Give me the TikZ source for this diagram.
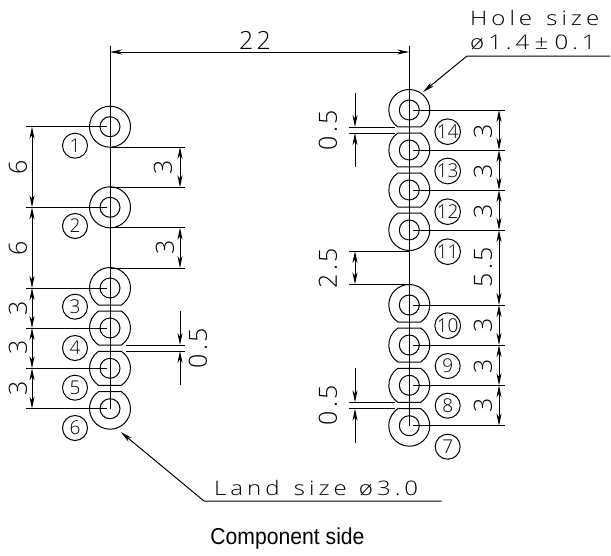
\documentclass[tikz,border=0pt]{standalone}
\usepackage{fontspec}
\usetikzlibrary{arrows.meta,calc}
\setmainfont{Open Sans Light}
\newfontfamily\capfont[FakeStretch=.92]{Liberation Sans}
\newfontfamily\notefont[FakeStretch=1.2,LetterSpace=20]{Open Sans Light}
\tikzset{
    land/.style={line width=1pt},
    hole/.style={line width=1pt},
    thinline/.style={line width=1pt},
    dimline/.style={line width=1pt, {Stealth[length=12pt,width=5pt,inset=3.5pt]}-{Stealth[length=12pt,width=5pt,inset=3.5pt]}},
    leader/.style={line width=1pt, -{Stealth[length=12pt,width=5pt,inset=3.5pt]}},
    pinnum/.style={draw, circle, line width=1pt, minimum size=25pt, inner sep=0pt, font=\fontsize{19}{19}\selectfont},
    dimtext/.style={inner sep=0pt, rotate=90, font=\fontsize{25}{25}\selectfont\addfontfeature{LetterSpace=12}},
    notetext/.style={inner sep=0pt, anchor=west, font=\notefont\fontsize{20}{20}\selectfont},
}
\begin{document}
\begin{tikzpicture}[x=1pt, y=-1pt]
    \useasboundingbox (0,0) rectangle (611,555);
    % lands, holes and pin numbers
    \foreach \i/\lx/\ly/\ca/\cb/\nx/\ny in {
        1/110/126.7/90/90/75/145.7, 2/110/207.3/90/90/75/226, 3/110/288/90/56/75/306.7,
        4/110/328/56/56/75/348, 5/110/368.3/56/56/75/387.7, 6/110/408.7/56/90/75/428,
        14/409.3/110/90/56/447.7/131.7, 13/409.3/150/56/56/447.7/171, 12/409.3/190/56/56/447.7/211.7,
        11/409.3/230/56/90/447.7/251.7, 10/409.3/305/90/56/447.7/325.7, 9/409.3/345/56/56/447.7/366,
        8/409.3/385.3/56/56/447.7/405.7, 7/409.3/425.7/56/90/447.7/446.7} {
        \coordinate (pin\i) at (\lx,\ly);
        \draw[land] (pin\i) ++(\cb:20.5) arc[start angle=\cb, end angle=-\ca, radius=20.5]
            -- ($(pin\i)+(180+\ca:20.5)$) arc[start angle=180+\ca, end angle=180-\cb, radius=20.5] -- cycle;
        \draw[hole] (pin\i) circle (10);
        \node[pinnum] (num\i) at (\nx,\ny) {\i};
    }
    % centre lines and the 22
    \coordinate (topL) at (110,46);
    \coordinate (topR) at (409.3,46);
    \draw[thinline] (topL) -- (pin6);
    \draw[thinline] (topR) -- (pin7);
    \coordinate (dimTop) at (0,52);
    \draw[dimline] (topL |- dimTop) -- (topR |- dimTop);
    \node[inner sep=0pt, font=\fontsize{25}{25}\selectfont\addfontfeature{LetterSpace=12}] (dim22) at (255,40) {22};
    % left column, pitch on the outside
    \coordinate (dimA) at (32,0);
    \foreach \i in {1,...,6} \draw[thinline] (26,0 |- pin\i) -- (107,0 |- pin\i);
    \foreach \i/\j/\ly/\txt in {1/2/167/6, 2/3/248/6, 3/4/308/3, 4/5/347/3, 5/6/388/3} {
        \draw[dimline] (dimA |- pin\i) -- (dimA |- pin\j);
        \node[dimtext] (pitchL\i) at (18,\ly) {\txt};
    }
    % left column, gaps between the lands
    \coordinate (dimB) at (180,0);
    \foreach \ya/\yb/\ly/\xt in {147/187.3/167/163, 227.7/268/247/165} {
        \coordinate (gapA) at (110,\ya);
        \coordinate (gapB) at (110,\yb);
        \draw[thinline] (gapA) -- (185,\ya);
        \draw[thinline] (gapB) -- (185,\yb);
        \draw[dimline] (dimB |- gapA) -- (dimB |- gapB);
        \node[dimtext] at (\xt,\ly) {3};
    }
    % 0.5 on the left
    \draw[thinline] (126,345) -- (185,345);
    \draw[thinline] (126,351) -- (185,351);
    \draw[leader] (180,311) -- (180,345);
    \draw[leader] (180,385) -- (180,351);
    \node[dimtext] (gapL) at (198,348) {0.5};
    % right column, pitch on the outside
    \coordinate (dimC) at (499,0);
    \foreach \i in {14,13,12,11,10,9,8,7} \draw[thinline] (413,0 |- pin\i) -- (505,0 |- pin\i);
    \foreach \i/\j/\ly/\txt in {14/13/131/3, 13/12/171/3, 12/11/211/3, 11/10/267/5.5, 10/9/325/3, 9/8/366/3, 8/7/405.7/3} {
        \draw[dimline] (dimC |- pin\i) -- (dimC |- pin\j);
        \node[dimtext] (pitchR\i) at (483,\ly) {\txt};
    }
    % right column, on the inside
    \foreach \ya/\yb/\ly in {127/133/130, 402.3/408.7/405} {
        \draw[thinline] (349,\ya) -- (395,\ya);
        \draw[thinline] (349,\yb) -- (395,\yb);
        \draw[leader] (355,\ya-34) -- (355,\ya);
        \draw[leader] (355,\yb+34) -- (355,\yb);
        \node[dimtext] at (328,\ly) {0.5};
    }
    \draw[thinline] (349,251) -- (409.3,251);
    \draw[thinline] (349,284.3) -- (409.3,284.3);
    \draw[dimline] (355,251) -- (355,284.3);
    \node[dimtext] (gapR) at (328,268) {2.5};
    % notes
    \node[notetext] (hole1) at (470,18) {Hole\hspace{4pt} size};
    \node[notetext] (hole2) at (470,42) {ø1.4\hspace{-5pt} ±\hspace{-4pt} 0.1};
    \node[notetext] (land1) at (214,488) {Land\hspace{4pt} size\hspace{2pt} ø3.0};
    \node[inner sep=0pt, font=\capfont\fontsize{23}{23}\selectfont] (side) at (287.5,539) {Component side};
    \coordinate (holeEnd) at (610,56);
    \coordinate (holeBend) at (467,56);
    \coordinate (holeTip) at (423,92);
    \draw[leader] (holeEnd) -- (holeBend) -- (holeTip);
    \coordinate (landEnd) at (441.7,501);
    \coordinate (landBend) at (204,501);
    \coordinate (landTip) at (120.7,432);
    \draw[leader] (landEnd) -- (landBend) -- (landTip);
\end{tikzpicture}
\end{document}
